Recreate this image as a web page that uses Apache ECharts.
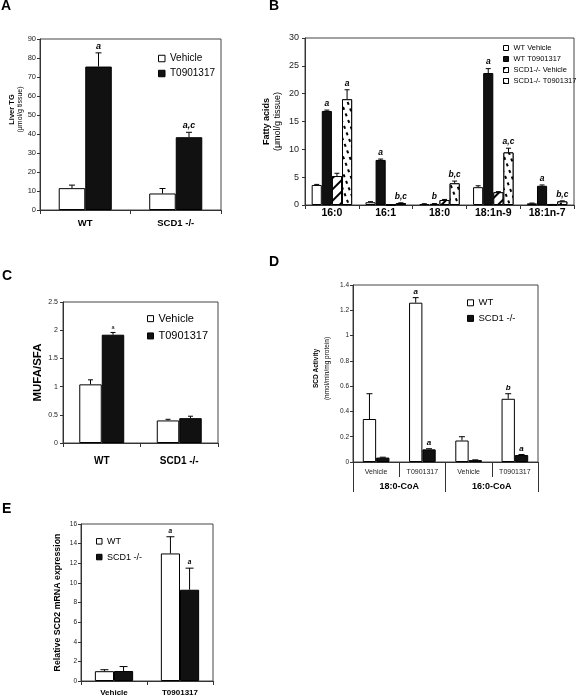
<!DOCTYPE html>
<html><head><meta charset="utf-8">
<script src="https://cdn.jsdelivr.net/npm/echarts@6/dist/echarts.min.js"></script>
<style>html,body{margin:0;padding:0;background:#fff}#c{width:576px;height:697px}</style>
</head><body><div id="c"></div>
<script>
const FONT = 'Liberation Sans, Arial, sans-serif';

// ---------- Panel A ----------
const aCategories = ['WT', 'SCD1 -/-'];
const aYTicks = [0, 10, 20, 30, 40, 50, 60, 70, 80, 90];
const aNames = ['Vehicle', 'T0901317'];
const aVehicle = [11.5, 8.7];
const aVehicleErr = [1.6, 2.6];
const aVehicleSig = ['', ''];
const aT0901317 = [75.5, 38.3];
const aT0901317Err = [7.2, 2.6];
const aT0901317Sig = ['a', 'a,c'];

// ---------- Panel B ----------
const bCategories = ['16:0', '16:1', '18:0', '18:1n-9', '18:1n-7'];
const bYTicks = [0, 5, 10, 15, 20, 25, 30];
const bNames = ['WT Vehicle', 'WT T0901317', 'SCD1-/- Vehicle', 'SCD1-/- T0901317'];
const bWTVehicle = [3.6, 0.5, 0.18, 3.2, 0.3];
const bWTVehicleErr = [0.1, 0.1, 0.05, 0.25, 0.05];
const bWTVehicleSig = ['', '', '', '', ''];
const bWTT0901317 = [16.9, 8.1, 0.2, 23.7, 3.45];
const bWTT0901317Err = [0.15, 0.15, 0.05, 0.8, 0.15];
const bWTT0901317Sig = ['a', 'a', 'b', 'a', 'a'];
const bSCDVehicle = [5.2, 0.05, 0.9, 2.3, 0.08];
const bSCDVehicleErr = [0.5, 0.02, 0.1, 0.1, 0.02];
const bSCDVehicleSig = ['', '', '', '', ''];
const bSCDT0901317 = [19.0, 0.35, 3.9, 9.45, 0.65];
const bSCDT0901317Err = [1.7, 0.05, 0.4, 0.75, 0.1];
const bSCDT0901317Sig = ['a', 'b,c', 'b,c', 'a,c', 'b,c'];

// ---------- Panel C ----------
const cCategories = ['WT', 'SCD1 -/-'];
const cYTicks = [0, 0.5, 1, 1.5, 2, 2.5];
const cVehicle = [1.04, 0.40];
const cVehicleErr = [0.08, 0.02];
const cVehicleSig = ['', ''];
const cT0901317 = [1.92, 0.44];
const cT0901317Err = [0.04, 0.035];
const cT0901317Sig = ['a', ''];

// ---------- Panel D ----------
const dCategories = ['Vehicle', 'T0901317', 'Vehicle', 'T0901317'];
const dSubstrates = ['18:0-CoA', '16:0-CoA'];
const dYTicks = [0, 0.2, 0.4, 0.6, 0.8, 1, 1.2, 1.4];
const dNames = ['WT', 'SCD1 -/-'];
const dWT = [0.34, 1.26, 0.17, 0.50];
const dWTErr = [0.2, 0.04, 0.03, 0.04];
const dWTSig = ['', 'a', '', 'b'];
const dSCD = [0.035, 0.10, 0.015, 0.055];
const dSCDErr = [0.003, 0.005, 0.002, 0.004];
const dSCDSig = ['', 'a', '', 'a'];

// ---------- Panel E ----------
const eCategories = ['Vehicle', 'T0901317'];
const eYTicks = [0, 2, 4, 6, 8, 10, 12, 14, 16];
const eWT = [1.0, 13.0];
const eWTErr = [0.15, 1.7];
const eWTSig = ['', 'a'];
const eSCD = [1.02, 9.3];
const eSCDErr = [0.45, 2.2];
const eSCDSig = ['', 'a'];

// ---------- styles ----------
const WHITE = { color: '#fff', borderColor: '#000', borderWidth: 1 };
const BLACK = { color: '#111', borderColor: '#000', borderWidth: 1 };
const HATCH = { color: '#fff', borderColor: '#000', borderWidth: 1,
  decal: { symbol: 'rect', symbolSize: 1, color: '#000', backgroundColor: '#fff',
           dashArrayX: [1, 0], dashArrayY: [1.3, 6], rotation: -Math.PI / 4 } };
const DOTS = { color: '#fff', borderColor: '#000', borderWidth: 1,
  decal: { symbol: 'rect', symbolSize: 1, color: '#000', backgroundColor: '#fff',
           dashArrayX: [[3, 4], [0, 4, 3, 0]], dashArrayY: [1.1, 3.2], rotation: 1.2 } };

function ticksAxis(t) { return { min: t[0], max: t[t.length - 1], interval: t[1] - t[0] }; }

function bar(name, data, axis, style, pct) {
  return { type: 'bar', name, xAxisIndex: axis, yAxisIndex: axis, data,
           barWidth: pct + '%', barGap: '0%', itemStyle: style,
           emphasis: { disabled: true }, silent: true };
}

function err(vals, errs, sigs, axis, idx, n, ratio, capW, sigFont) {
  return {
    type: 'custom', xAxisIndex: axis, yAxisIndex: axis, z: 5, silent: true,
    data: vals.map((v, i) => [i, v, errs[i]]),
    renderItem: (params, api) => {
      const i = api.value(0), v = api.value(1), e = api.value(2);
      const band = api.size([1, 0])[0];
      const base = api.coord([i, v]);
      const top = api.coord([i, v + e]);
      const x = base[0] + (idx - (n - 1) / 2) * band * ratio;
      const ch = [];
      if (e > 0) {
        ch.push({ type: 'line', shape: { x1: x, y1: base[1], x2: x, y2: top[1] }, style: { stroke: '#000', lineWidth: 1 } });
        ch.push({ type: 'line', shape: { x1: x - capW / 2, y1: top[1], x2: x + capW / 2, y2: top[1] }, style: { stroke: '#000', lineWidth: 1 } });
      }
      const s = sigs[params.dataIndex];
      if (s) ch.push({ type: 'text', x: x, y: top[1] - 2,
        style: Object.assign({ text: s, fill: '#000', align: 'center', verticalAlign: 'bottom', fontFamily: FONT }, sigFont) });
      return { type: 'group', children: ch };
    }
  };
}

function xAx(grid, data, fs, margin, extra) {
  return Object.assign({
    type: 'category', gridIndex: grid, data,
    axisLine: { lineStyle: { color: '#333', width: 1 } },
    axisTick: { show: true, inside: false, length: 4, alignWithLabel: false, lineStyle: { color: '#333' } },
    axisLabel: { fontSize: fs, fontWeight: 'bold', color: '#000', margin, fontFamily: FONT, interval: 0 },
    splitLine: { show: false }
  }, extra || {});
}
function yAx(grid, ticks, fs, margin, name, nameGap, nameStyle) {
  return Object.assign({
    type: 'value', gridIndex: grid,
    axisLine: { show: true, lineStyle: { color: '#333', width: 1 } },
    axisTick: { show: true, inside: false, length: 3, lineStyle: { color: '#333' } },
    axisLabel: { fontSize: fs, color: '#222', margin, fontFamily: FONT },
    splitLine: { show: false },
    name, nameLocation: 'middle', nameRotate: 90, nameGap,
    nameTextStyle: Object.assign({ color: '#000', fontFamily: FONT }, nameStyle)
  }, ticksAxis(ticks));
}

const gridBase = { show: true, borderColor: '#444', borderWidth: 1, containLabel: false, backgroundColor: 'transparent' };

function legendOf(data, left, top, icon, fs, lh) {
  return { data, left, top, orient: 'vertical', padding: 0, itemGap: 0,
    itemWidth: icon, itemHeight: icon, icon: 'rect', selectedMode: false,
    itemStyle: { borderColor: '#000', borderWidth: 1 },
    textStyle: { fontSize: fs, lineHeight: lh, color: '#000', fontFamily: FONT } };
}

const sigA = { fontSize: 9, fontWeight: 'bold', fontStyle: 'italic' };
const sigB = { fontSize: 8.5, fontWeight: 'bold', fontStyle: 'italic' };
const sigC = { fontSize: 5.5 };
const sigD = { fontSize: 8, fontWeight: 'bold', fontStyle: 'italic' };
const sigE = { fontSize: 6.5, fontWeight: 'bold', fontStyle: 'italic' };

const option = {
  animation: false,
  aria: { enabled: false },
  textStyle: { fontFamily: FONT },
  title: [
    { text: 'A', left: 1, top: -1 },
    { text: 'B', left: 269, top: -1 },
    { text: 'C', left: 2, top: 269 },
    { text: 'D', left: 269, top: 255 },
    { text: 'E', left: 2, top: 502 }
  ].map(t => Object.assign(t, { padding: 0, textStyle: { fontSize: 14, fontWeight: 'bold', color: '#000', fontFamily: FONT } })),
  grid: [
    Object.assign({ left: 40, top: 39, width: 181, height: 171 }, gridBase),
    Object.assign({ left: 305, top: 38, width: 269, height: 167 }, gridBase),
    Object.assign({ left: 63, top: 302, width: 155, height: 141 }, gridBase),
    Object.assign({ left: 353, top: 285, width: 185, height: 177 }, gridBase),
    Object.assign({ left: 81, top: 524, width: 132, height: 158 }, gridBase),
    { left: 353, top: 285, width: 185, height: 177, show: false }
  ],
  xAxis: [
    xAx(0, aCategories, 9.5, 8),
    xAx(1, bCategories, 10.5, 3),
    xAx(2, cCategories, 10, 13),
    xAx(3, dCategories, 7, 7, { axisTick: { show: true, length: 15, alignWithLabel: false, lineStyle: { color: '#333' } },
      axisLabel: { fontSize: 7, color: '#222', margin: 7, fontFamily: FONT, interval: 0 } }),
    xAx(4, eCategories, 8, 8),
    xAx(5, dSubstrates, 9, 20, { axisTick: { show: true, length: 30, alignWithLabel: false, lineStyle: { color: '#333' } } })
  ],
  yAxis: [
    yAx(0, aYTicks, 7.5, 4, '{b|Liver TG}\n{n|(μmol/g tissue)}', 14,
      { padding: [0, 0, 0, 30], rich: { b: { fontWeight: 'bold', fontSize: 7.5, lineHeight: 8.5, fontFamily: FONT }, n: { fontSize: 7, lineHeight: 8.5, fontFamily: FONT } } }),
    yAx(1, bYTicks, 9, 6, '{b|Fatty acids}\n{n|(μmol/g tissue)}', 22,
      { rich: { b: { fontWeight: 'bold', fontSize: 9, lineHeight: 11, fontFamily: FONT }, n: { fontSize: 9, lineHeight: 11, fontFamily: FONT } } }),
    yAx(2, cYTicks, 7, 5, 'MUFA/SFA', 19, { fontSize: 11.5, fontWeight: 'bold' }),
    yAx(3, dYTicks, 6.5, 4, '{b|SCD Activity}\n{n|(nmol/min/mg protein)}', 20,
      { padding: [0, 0, 0, 10], rich: { b: { fontWeight: 'bold', fontSize: 6.5, lineHeight: 11, fontFamily: FONT }, n: { fontSize: 6.5, lineHeight: 11, fontFamily: FONT } } }),
    yAx(4, eYTicks, 6.5, 4, 'Relative SCD2 mRNA expression', 19, { fontSize: 8.8, fontWeight: 'bold' }),
    { type: 'value', gridIndex: 5, show: false, min: 0, max: 1 }
  ],
  legend: [
    legendOf(aNames, 158, 51, 6.5, 10, 15),
    legendOf(bNames, 503, 42.5, 5, 7.5, 11),
    legendOf(aNames, 147, 310, 6, 11, 17.3),
    legendOf(dNames, 467, 295, 6, 9.5, 15.6),
    legendOf(dNames, 96, 533.5, 5.5, 9, 15.7)
  ],
  series: [
    // A
    bar(aNames[0], aVehicle, 0, WHITE, 29.3),
    bar(aNames[1], aT0901317, 0, BLACK, 29.3),
    err(aVehicle, aVehicleErr, aVehicleSig, 0, 0, 2, 0.293, 6, sigA),
    err(aT0901317, aT0901317Err, aT0901317Sig, 0, 1, 2, 0.293, 6, sigA),
    // B
    bar(bNames[0], bWTVehicle, 1, WHITE, 18.8),
    bar(bNames[1], bWTT0901317, 1, BLACK, 18.8),
    bar(bNames[2], bSCDVehicle, 1, HATCH, 18.8),
    bar(bNames[3], bSCDT0901317, 1, DOTS, 18.8),
    err(bWTVehicle, bWTVehicleErr, bWTVehicleSig, 1, 0, 4, 0.188, 5, sigB),
    err(bWTT0901317, bWTT0901317Err, bWTT0901317Sig, 1, 1, 4, 0.188, 5, sigB),
    err(bSCDVehicle, bSCDVehicleErr, bSCDVehicleSig, 1, 2, 4, 0.188, 5, sigB),
    err(bSCDT0901317, bSCDT0901317Err, bSCDT0901317Sig, 1, 3, 4, 0.188, 5, sigB),
    // C
    bar(aNames[0], cVehicle, 2, WHITE, 29),
    bar(aNames[1], cT0901317, 2, BLACK, 29),
    err(cVehicle, cVehicleErr, cVehicleSig, 2, 0, 2, 0.29, 5, sigC),
    err(cT0901317, cT0901317Err, cT0901317Sig, 2, 1, 2, 0.29, 5, sigC),
    // D
    bar(dNames[0], dWT, 3, WHITE, 28.8),
    bar(dNames[1], dSCD, 3, BLACK, 28.8),
    err(dWT, dWTErr, dWTSig, 3, 0, 2, 0.288, 6, sigD),
    err(dSCD, dSCDErr, dSCDSig, 3, 1, 2, 0.288, 6, sigD),
    // E
    bar(dNames[0], eWT, 4, WHITE, 29),
    bar(dNames[1], eSCD, 4, BLACK, 29),
    err(eWT, eWTErr, eWTSig, 4, 0, 2, 0.29, 8, sigE),
    err(eSCD, eSCDErr, eSCDSig, 4, 1, 2, 0.29, 8, sigE)
  ]
};

const chart = echarts.init(document.getElementById('c'), null, { renderer: 'canvas' });
chart.setOption(option);
</script>
</body></html>
